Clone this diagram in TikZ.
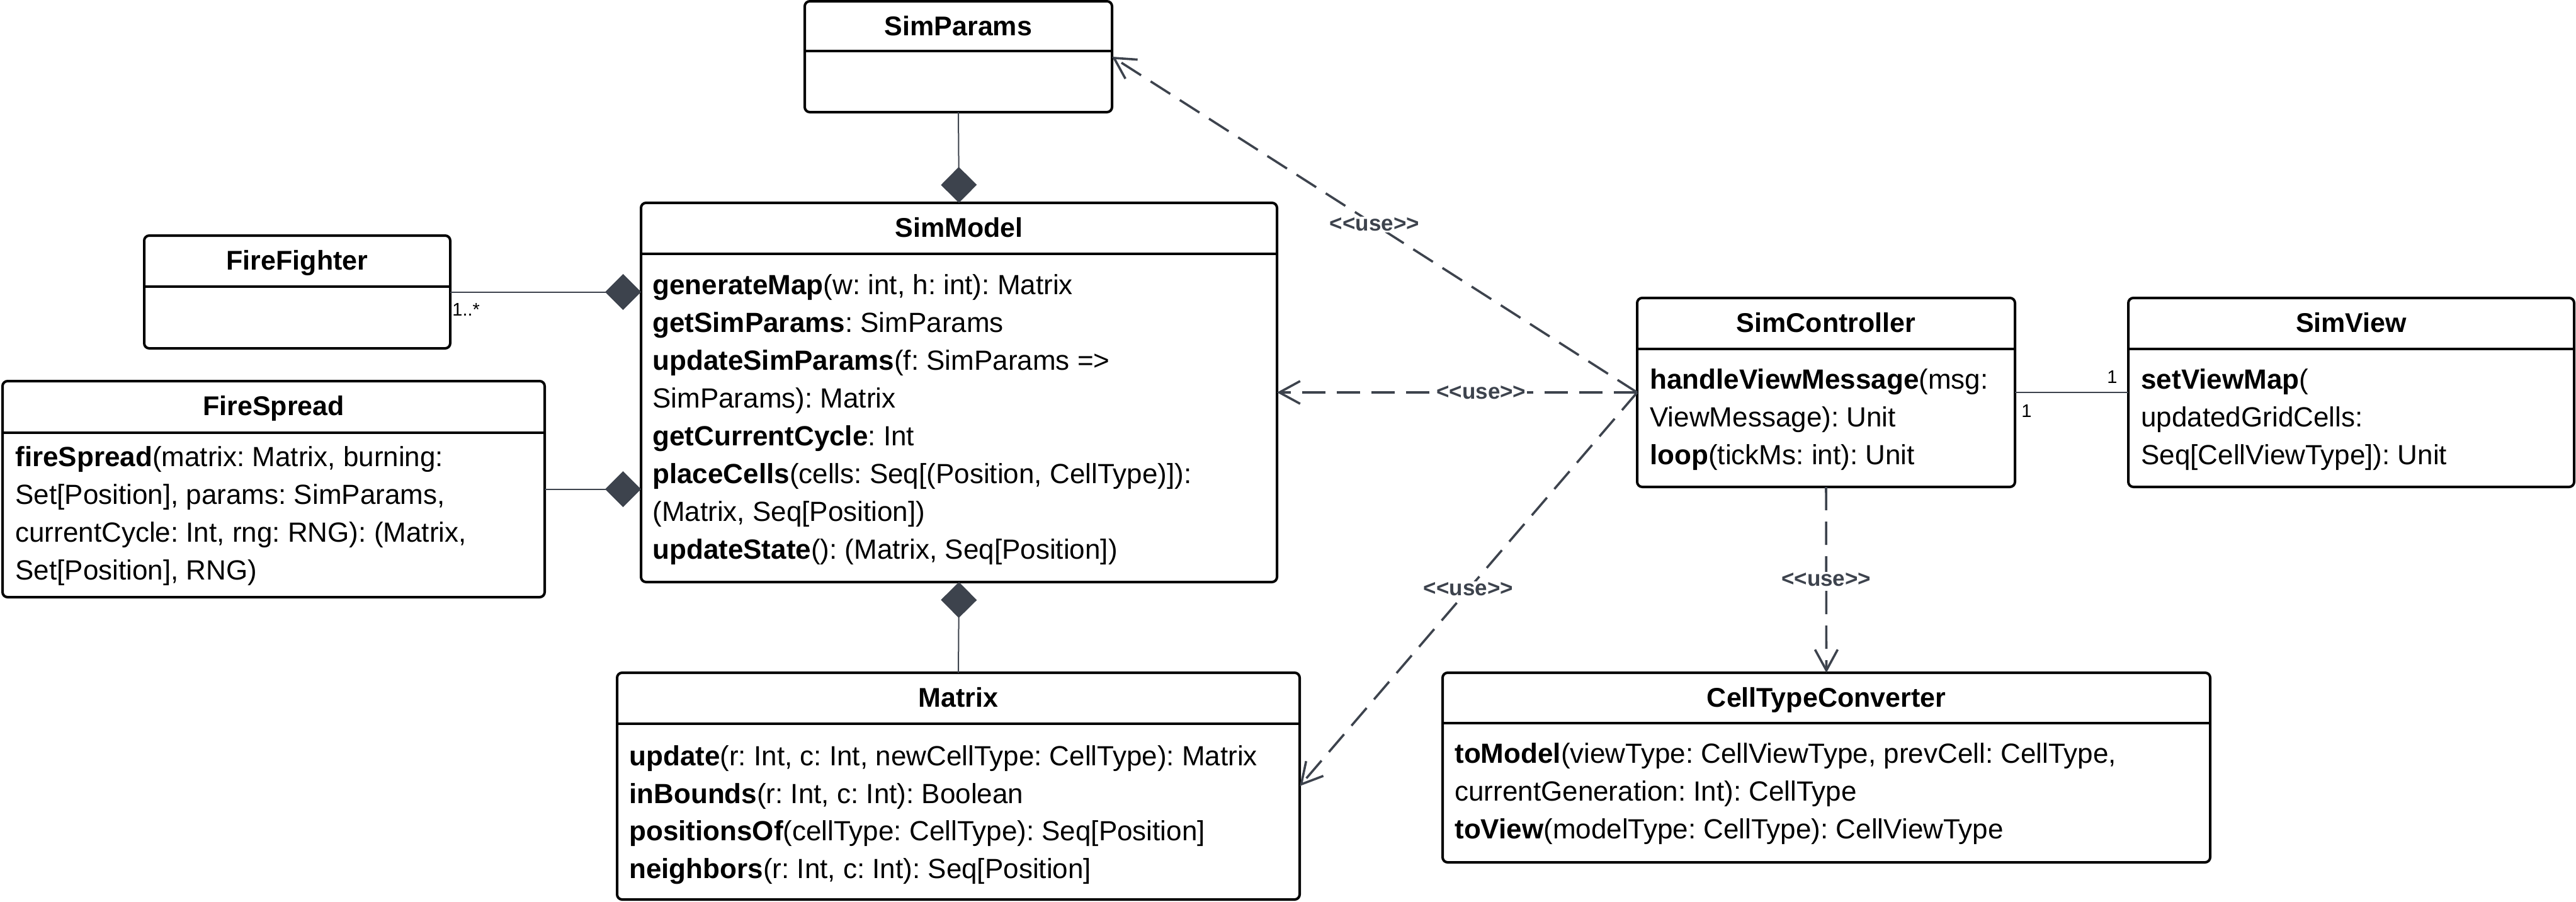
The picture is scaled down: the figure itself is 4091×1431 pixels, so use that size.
\documentclass[tikz,border=0pt]{standalone}
\usepackage{fontspec}
\setmainfont{Liberation Sans}
\usetikzlibrary{arrows.meta}
\definecolor{slate}{RGB}{61,67,77}
\frenchspacing
\newcommand\mname[1]{{\bfseries #1}}
\tikzset{
  classbox/.style={draw=black, line width=2pt, rounded corners=4pt, fill=white, inner sep=0pt, outer sep=0pt},
  divider/.style={draw=black, line width=2pt},
  titletext/.style={anchor=base, inner sep=0pt, font=\frenchspacing\bfseries\fontsize{21.5}{26}\selectfont},
  member/.style={anchor=base west, inner sep=0pt, font=\frenchspacing\fontsize{22}{26}\selectfont},
  comp/.style={draw=slate, line width=1pt, -{Diamond[length=28.5pt,width=28.5pt,fill=slate]}},
  assoc/.style={draw=slate, line width=1pt},
  usedep/.style={draw=slate, line width=1.8pt, dash pattern=on 18.5pt off 9pt, -{Straight Barb[length=16.5pt,width=18pt]}},
  uselabel/.style={fill=white, inner sep=1pt, text=slate, font=\bfseries\fontsize{17.5}{20}\selectfont},
  multlabel/.style={anchor=base west, inner sep=0pt, text=black, font=\fontsize{14.5}{16}\selectfont}
}
\newcommand\umlclass[7]{%
  \node[classbox, minimum width={(#4-#2)*0.5pt}, minimum height={(#5-#3)*0.5pt}] (#1) at ({(#2+#4)/2},{(#3+#5)/2}) {};
  \draw[divider] (#2,#6) -- (#4,#6);
  \node[titletext] (#1-title) at ({(#2+#4)/2},{#3+54}) {#7};
}
\begin{document}
\begin{tikzpicture}[x=0.5pt,y=-0.5pt]
\useasboundingbox (0,0) rectangle (4091,1431);

% classes
\umlclass{SP}{1278}{2}{1766}{178}{81}{SimParams}
\umlclass{SM}{1018}{322}{2028}{924}{403}{SimModel}
\umlclass{FF}{229}{374}{715}{553}{455}{FireFighter}
\umlclass{FS}{4}{605}{865}{948}{687}{FireSpread}
\umlclass{MX}{980}{1068}{2064}{1428}{1149}{Matrix}
\umlclass{SC}{2600}{473}{3200}{773}{554}{SimController}
\umlclass{SV}{3380}{473}{4088}{773}{554}{SimView}
\umlclass{CT}{2291}{1068}{3510}{1369}{1148}{CellTypeConverter}

% SimModel members
\node[member] (SM-1) at (1036,467) {\mname{generateMap}(w: int, h: int): Matrix};
\node[member] (SM-2) at (1036,527) {\mname{getSimParams}: SimParams};
\node[member] (SM-3) at (1036,587) {\mname{updateSimParams}(f: SimParams =>};
\node[member] (SM-4) at (1036,647) {SimParams): Matrix};
\node[member] (SM-5) at (1036,707) {\mname{getCurrentCycle}: Int};
\node[member] (SM-6) at (1036,767) {\mname{placeCells}(cells: Seq[(Position, CellType)]):};
\node[member] (SM-7) at (1036,827) {(Matrix, Seq[Position])};
\node[member] (SM-8) at (1036,887) {\mname{updateState}(): (Matrix, Seq[Position])};

% FireSpread members
\node[member] (FS-1) at (24,740) {\mname{fireSpread}(matrix: Matrix, burning:};
\node[member] (FS-2) at (24,800) {Set[Position], params: SimParams,};
\node[member] (FS-3) at (24,860) {currentCycle: Int, rng: RNG): (Matrix,};
\node[member] (FS-4) at (24,920) {Set[Position], RNG)};

% Matrix members
\node[member] (MX-1) at (999,1215) {\mname{update}(r: Int, c: Int, newCellType: CellType): Matrix};
\node[member] (MX-2) at (999,1275) {\mname{inBounds}(r: Int, c: Int): Boolean};
\node[member] (MX-3) at (999,1334) {\mname{positionsOf}(cellType: CellType): Seq[Position]};
\node[member] (MX-4) at (999,1394) {\mname{neighbors}(r: Int, c: Int): Seq[Position]};

% SimController members
\node[member] (SC-1) at (2620,617) {\mname{handleViewMessage}(msg:};
\node[member] (SC-2) at (2620,677) {ViewMessage): Unit};
\node[member] (SC-3) at (2620,737) {\mname{loop}(tickMs: int): Unit};

% SimView members
\node[member] (SV-1) at (3400,617) {\mname{setViewMap}(};
\node[member] (SV-2) at (3400,677) {updatedGridCells:};
\node[member] (SV-3) at (3400,737) {Seq[CellViewType]): Unit};

% CellTypeConverter members
\node[member] (CT-1) at (2310,1211) {\mname{toModel}(viewType: CellViewType, prevCell: CellType,};
\node[member] (CT-2) at (2310,1271) {currentGeneration: Int): CellType};
\node[member] (CT-3) at (2310,1331) {\mname{toView}(modelType: CellType): CellViewType};

% compositions
\draw[comp] (SP.south) -- (SM.north);
\draw[comp] (FF.east) -- (FF.east -| SM.west);
\draw[comp] (FS.east) -- (FS.east -| SM.west);
\draw[comp] (MX.north) -- (SM.south);

% multiplicities
\node[multlabel] (m1) at (718,501) {1..*};

% association
\draw[assoc] (SC.east) -- (SV.west);
\node[multlabel] (m2) at (3346,608) {1};
\node[multlabel] (m3) at (3210,662) {1};

% use dependencies
\draw[usedep] (SC.west) -- (SP.east) node[uselabel, pos=0.5] (u1) {<\kern0pt<use>\kern0pt>};
\draw[usedep] (SC.west) -- (SM.east) node[uselabel, pos=0.433] (u2) {<\kern0pt<use>\kern0pt>};
\draw[usedep] (SC.west) -- (MX.east) node[uselabel, pos=0.5] (u3) {<\kern0pt<use>\kern0pt>};
\draw[usedep] (SC.south) -- (CT.north) node[uselabel, pos=0.5] (u4) {<\kern0pt<use>\kern0pt>};
\end{tikzpicture}
\end{document}
